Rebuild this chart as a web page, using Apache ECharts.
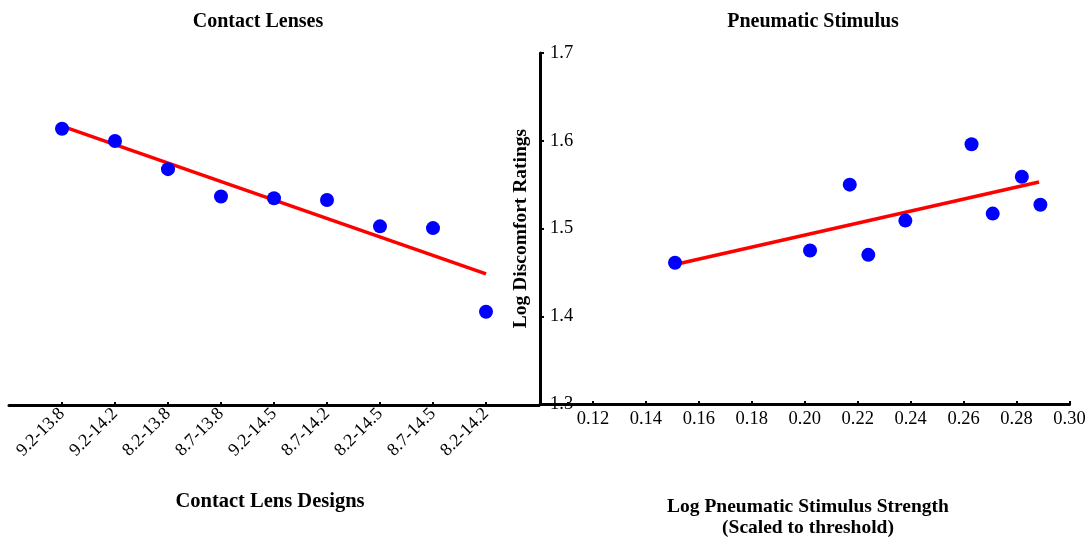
<!DOCTYPE html>
<html>
<head>
<meta charset="utf-8">
<script src="https://cdn.jsdelivr.net/npm/echarts@6/dist/echarts.min.js"></script>
<style>html,body{margin:0;padding:0;background:#fff;}#c{width:1092px;height:540px;}</style>
</head>
<body>
<div id="c"></div>
<script>
// ---- data ----
const categories = ['9.2-13.8','9.2-14.2','8.2-13.8','8.7-13.8','9.2-14.5','8.7-14.2','8.2-14.5','8.7-14.5','8.2-14.2'];
const lensRatings = [1.614, 1.600, 1.568, 1.537, 1.535, 1.533, 1.503, 1.501, 1.406];
const lensFitStart = 1.617;   // fitted value at first design
const lensFitEnd = 1.449;     // fitted value at last design
const stimStrength = [0.151, 0.202, 0.217, 0.224, 0.238, 0.263, 0.271, 0.282, 0.289];
const stimRatings  = [1.461, 1.475, 1.550, 1.470, 1.509, 1.596, 1.517, 1.559, 1.527];
const stimFitX = [0.151, 0.2885];
const stimFitY = [1.459, 1.553];
const xTickValues = [0.12, 0.14, 0.16, 0.18, 0.20, 0.22, 0.24, 0.26, 0.28, 0.30];
const yTickValues = [1.3, 1.4, 1.5, 1.6, 1.7];

const FONT = 'Liberation Serif';
const catPositions = categories.map((c, i) => i + 1);

const chart = echarts.init(document.getElementById('c'), null, {renderer: 'canvas'});
const axisLine = {show: true, lineStyle: {color: '#000', width: 3}};

chart.setOption({
  animation: false,
  backgroundColor: '#fff',
  title: [
    {text: 'Contact Lenses', left: 253, top: 7, textAlign: 'center',
     textStyle: {fontFamily: FONT, fontWeight: 'bold', fontSize: 20, color: '#000'}},
    {text: 'Pneumatic Stimulus', left: 808, top: 7, textAlign: 'center',
     textStyle: {fontFamily: FONT, fontWeight: 'bold', fontSize: 20, color: '#000'}},
    {text: 'Contact Lens Designs', left: 265, top: 486, textAlign: 'center',
     textStyle: {fontFamily: FONT, fontWeight: 'bold', fontSize: 20.5, color: '#000'}},
    {text: 'Log Pneumatic Stimulus Strength\n(Scaled to threshold)', left: 803, top: 491, textAlign: 'center',
     textStyle: {fontFamily: FONT, fontWeight: 'bold', fontSize: 19.5, lineHeight: 21, color: '#000', align: 'center'}}
  ],
  grid: [
    {left: 9, width: 530, top: 53, height: 352},
    {left: 540, width: 529.5, top: 53, height: 351}
  ],
  xAxis: [
    {gridIndex: 0, type: 'value', min: 0, max: 10, interval: 1,
     axisLine: axisLine, splitLine: {show: false},
     axisTick: {show: true, inside: true, length: 3, lineStyle: {color: '#000', width: 2}, customValues: catPositions},
     axisLabel: {show: true, rotate: 45, margin: 6, fontFamily: FONT, fontSize: 18, color: '#000',
       customValues: catPositions, formatter: v => categories[Math.round(v) - 1] || ''}},
    {gridIndex: 1, type: 'value', min: 0.10, max: 0.30, interval: 0.02,
     axisLine: axisLine, splitLine: {show: false},
     axisTick: {show: true, inside: true, length: 3, lineStyle: {color: '#000', width: 2}, customValues: xTickValues},
     axisLabel: {show: true, margin: 6, fontFamily: FONT, fontSize: 18.5, color: '#000',
       customValues: xTickValues, formatter: v => v.toFixed(2)}}
  ],
  yAxis: [
    {gridIndex: 0, type: 'value', min: 1.3, max: 1.7, show: false},
    {gridIndex: 1, type: 'value', min: 1.3, max: 1.7, interval: 0.1,
     axisLine: axisLine, splitLine: {show: false},
     name: 'Log Discomfort Ratings', nameLocation: 'middle', nameRotate: 90, nameGap: 9,
     nameTextStyle: {fontFamily: FONT, fontWeight: 'bold', fontSize: 19.5, color: '#000'},
     axisTick: {show: true, inside: true, length: 4, lineStyle: {color: '#000', width: 2}, customValues: yTickValues},
     axisLabel: {show: true, inside: true, margin: 10, fontFamily: FONT, fontSize: 18.5, color: '#000',
       customValues: yTickValues, formatter: v => v.toFixed(1)}}
  ],
  series: [
    {type: 'line', xAxisIndex: 0, yAxisIndex: 0, showSymbol: false, z: 2,
     lineStyle: {color: '#ff0000', width: 3.5},
     data: [[catPositions[0], lensFitStart], [catPositions[catPositions.length - 1], lensFitEnd]]},
    {type: 'scatter', xAxisIndex: 0, yAxisIndex: 0, symbolSize: 14, z: 3,
     itemStyle: {color: '#0000ff', opacity: 1},
     data: lensRatings.map((v, i) => [catPositions[i], v])},
    {type: 'line', xAxisIndex: 1, yAxisIndex: 1, showSymbol: false, z: 2,
     lineStyle: {color: '#ff0000', width: 3.5},
     data: stimFitX.map((x, i) => [x, stimFitY[i]])},
    {type: 'scatter', xAxisIndex: 1, yAxisIndex: 1, symbolSize: 14, z: 3,
     itemStyle: {color: '#0000ff', opacity: 1},
     data: stimStrength.map((x, i) => [x, stimRatings[i]])}
  ]
});
</script>
</body>
</html>
